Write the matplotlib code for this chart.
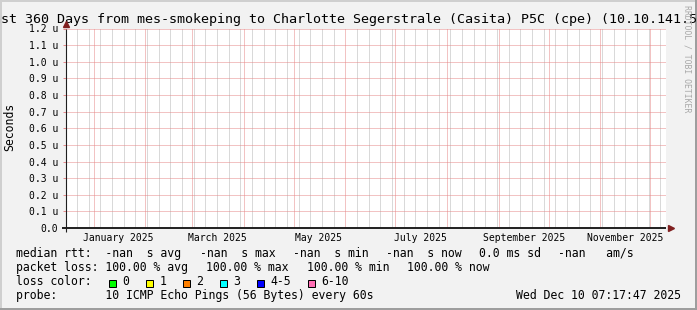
import datetime as dt
import matplotlib
matplotlib.use("Agg")
import matplotlib.pyplot as plt
import matplotlib.dates as mdates
from matplotlib.patches import Rectangle
from matplotlib.transforms import blended_transform_factory

plt.rcParams["font.family"] = ["DejaVu Sans Mono"]

# ---------------------------------------------------------
# Chart values
# ---------------------------------------------------------

end_time = dt.datetime(2025, 12, 10, 7, 17, 47)
span_days = 360

title = ("Last 360 Days from mes-smokeping to Charlotte Segerstrale "
         "(Casita) P5C (cpe) (10.10.141.5")
y_label = "Seconds"
watermark = "RRDTOOL / TOBI OETIKER"

y_ticks_us = [0.0, 0.1, 0.2, 0.3, 0.4, 0.5, 0.6, 0.7, 0.8, 0.9, 1.0, 1.1, 1.2]
y_max_us = 1.2

label_months = [1, 3, 5, 7, 9, 11]
label_year = 2025

rtt_names = ["avg", "max", "min", "now"]
rtt_values = ["-nan", "-nan", "-nan", "-nan"]
rtt_sd = "0.0 ms"
rtt_am = "-nan"

loss_names = ["avg", "max", "min", "now"]
loss_values = [100.00, 100.00, 100.00, 100.00]

loss_labels = ["0", "1", "2", "3", "4-5", "6-10"]
loss_colors = ["#00ff00", "#ffff00", "#ff8000", "#00ffff", "#0000ff", "#ff6eb4"]

probe_text = "10 ICMP Echo Pings (56 Bytes) every 60s"
stamp = end_time.strftime("%a %b %d %H:%M:%S %Y")

# ---------------------------------------------------------
# Layout (pixels)
# ---------------------------------------------------------

W, H = 697, 310
PL, PW = 65.8, 600.0          # plot left, width
PT, PB = 28.5, 228.0          # plot top, bottom

back = "#f2f2f2"
shade_a = "#cfcfcf"
shade_b = "#9e9e9e"
minor_col = "#b4b4b4"
major_col = "#e68888"
axis_col = "#1f1f1f"
arrow_col = "#801f1f"

fs_axis = 7.05
fs_legend = 8.3
fs_title = 9.6

fig = plt.figure(figsize=(W / 100, H / 100), dpi=100, facecolor=back)

bg = fig.add_axes([0, 0, 1, 1])
bg.set_xlim(0, W)
bg.set_ylim(H, 0)
bg.axis("off")

# 3d frame like rrdtool
bg.add_patch(Rectangle((0, 0), W, 2, color=shade_a, lw=0))
bg.add_patch(Rectangle((0, 0), 2, H, color=shade_a, lw=0))
bg.add_patch(Rectangle((0, H - 2), W, 2, color=shade_b, lw=0))
bg.add_patch(Rectangle((W - 2, 0), 2, H, color=shade_b, lw=0))

# ---------------------------------------------------------
# Plot area
# ---------------------------------------------------------

ax = fig.add_axes([PL / W, 1 - PB / H, PW / W, (PB - PT) / H])
ax.set_facecolor("white")
ax.set_zorder(2)

start_time = end_time - dt.timedelta(days=span_days)
ax.set_xlim(mdates.date2num(start_time), mdates.date2num(end_time))
ax.set_ylim(0, y_max_us * 1e-6)

ax.xaxis.set_major_locator(mdates.MonthLocator())
ax.xaxis.set_minor_locator(mdates.WeekdayLocator(byweekday=mdates.SU))
ax.set_yticks([v * 1e-6 for v in y_ticks_us])
ax.set_yticklabels(["0.0" if v == 0 else f"{v:.1f} u" for v in y_ticks_us],
                   fontsize=fs_axis)

dots = (0, (1, 1))
ax.grid(which="minor", axis="x", color=minor_col, lw=0.72, ls=dots)
ax.grid(which="major", axis="x", color=major_col, lw=0.72, ls=dots)
ax.grid(which="major", axis="y", color=major_col, lw=0.72, ls=dots)
ax.set_axisbelow(True)

ax.tick_params(axis="x", which="both", length=0, labelbottom=False)
ax.tick_params(axis="y", which="major", length=2.2, width=0.7,
               color=major_col, pad=3.5)
for s in ax.spines.values():
    s.set_visible(False)

# axes with arrows
ph = PB - PT
ax.plot([-3.5 / PW, 1.0], [0, 0], transform=ax.transAxes, clip_on=False,
        color=axis_col, lw=1.4, solid_capstyle="butt", zorder=5)
ax.plot([0, 0], [-3.5 / ph, 1.0], transform=ax.transAxes, clip_on=False,
        color=axis_col, lw=0.8, solid_capstyle="butt", zorder=5)
ax.plot([1.0 + 5.0 / PW], [0], marker=">", ms=5, color=arrow_col,
        transform=ax.transAxes, clip_on=False, zorder=6)
ax.plot([0], [1.0 + 4.3 / ph], marker="^", ms=5, color=arrow_col,
        transform=ax.transAxes, clip_on=False, zorder=6)

# month labels, centred half a month after the month start
trans = blended_transform_factory(ax.transData, ax.transAxes)
for m in label_months:
    d = dt.datetime(label_year, m, 1) + dt.timedelta(days=15)
    ax.text(mdates.date2num(d), -13.0 / ph,
            d.strftime("%B %Y"), transform=trans,
            ha="center", va="baseline", fontsize=fs_axis)

# ---------------------------------------------------------
# Texts around the plot
# ---------------------------------------------------------

bg.text(-15, 23.3, title, ha="left", va="baseline", fontsize=fs_title)
bg.text(10, 127, y_label, rotation=90, ha="center", va="center",
        fontsize=fs_legend)
bg.text(686.5, 59, watermark, rotation=270, ha="center", va="center",
        fontsize=5.9, color="#a8a8a8")

base = [256.7, 270.8, 284.9, 299.0]

rtt_items = [f"median rtt:  {rtt_values[0]}  s {rtt_names[0]}"]
rtt_items += [f"{v}  s {n}" for v, n in zip(rtt_values[1:], rtt_names[1:])]
rtt_items += [f"{rtt_sd} sd", f"{rtt_am}   am/s"]
rtt_x = [16, 200, 293, 386.3, 479.3, 558.5]
for x, s in zip(rtt_x, rtt_items):
    bg.text(x, base[0], s, va="baseline", fontsize=fs_legend)

loss_items = [f"packet loss: {loss_values[0]:.2f} % {loss_names[0]}"]
loss_items += [f"{v:.2f} % {n}" for v, n in zip(loss_values[1:], loss_names[1:])]
loss_x = [16, 206.5, 307, 407]
for x, s in zip(loss_x, loss_items):
    bg.text(x, base[1], s, va="baseline", fontsize=fs_legend)

bg.text(16, base[2], "loss color:", va="baseline", fontsize=fs_legend)
box_x = [108, 145.5, 182.5, 219.5, 256, 307.5]
for x, lab, c in zip(box_x, loss_labels, loss_colors):
    bg.add_patch(Rectangle((x + 0.5, 279.5), 7, 7, facecolor=c,
                           edgecolor="black", lw=0.72))
    bg.text(x + 14, base[2], lab, va="baseline", fontsize=fs_legend)

bg.text(16, base[3], "probe:       " + probe_text, va="baseline",
        fontsize=fs_legend)
bg.text(680.7, base[3], stamp, ha="right", va="baseline", fontsize=fs_legend)

fig.savefig("out.png", dpi=100, facecolor=back)
